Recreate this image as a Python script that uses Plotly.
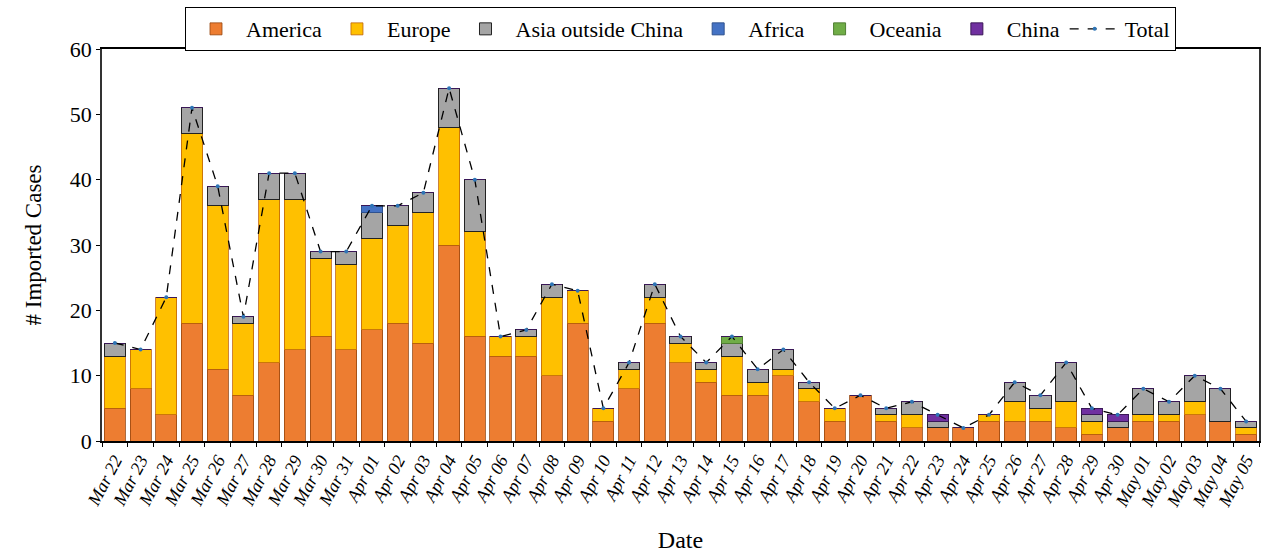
import plotly.graph_objects as go

dates = ["Mar 22", "Mar 23", "Mar 24", "Mar 25", "Mar 26", "Mar 27", "Mar 28", "Mar 29", "Mar 30", "Mar 31",
         "Apr 01", "Apr 02", "Apr 03", "Apr 04", "Apr 05", "Apr 06", "Apr 07", "Apr 08", "Apr 09", "Apr 10",
         "Apr 11", "Apr 12", "Apr 13", "Apr 14", "Apr 15", "Apr 16", "Apr 17", "Apr 18", "Apr 19", "Apr 20",
         "Apr 21", "Apr 22", "Apr 23", "Apr 24", "Apr 25", "Apr 26", "Apr 27", "Apr 28", "Apr 29", "Apr 30",
         "May 01", "May 02", "May 03", "May 04", "May 05"]

america = [5, 8, 4, 18, 11, 7, 12, 14, 16, 14,
           17, 18, 15, 30, 16, 13, 13, 10, 18, 3,
           8, 18, 12, 9, 7, 7, 10, 6, 3, 7,
           3, 2, 2, 2, 3, 3, 3, 2, 1, 2,
           3, 3, 4, 3, 1]
europe = [8, 6, 18, 29, 25, 11, 25, 23, 12, 13,
          14, 15, 20, 18, 16, 3, 3, 12, 5, 2,
          3, 4, 3, 2, 6, 2, 1, 2, 2, 0,
          1, 2, 0, 0, 1, 3, 2, 4, 2, 0,
          1, 1, 2, 0, 1]
asia = [2, 0, 0, 4, 3, 1, 4, 4, 1, 2,
        4, 3, 3, 6, 8, 0, 1, 2, 0, 0,
        1, 2, 1, 1, 2, 2, 3, 1, 0, 0,
        1, 2, 1, 0, 0, 3, 2, 6, 1, 1,
        4, 2, 4, 5, 1]
africa = [0] * 10 + [1] + [0] * 34
oceania = [0] * 24 + [1] + [0] * 20
china = [0] * 32 + [1] + [0] * 5 + [1, 1] + [0] * 5

totals = [a + e + s + f + o + c for a, e, s, f, o, c in
          zip(america, europe, asia, africa, oceania, china)]

serif = "Liberation Serif, Times New Roman, serif"

series = [
    ("America", america, "#ED7D31", "rgba(150,70,15,0.8)"),
    ("Europe", europe, "#FFC000", "rgba(190,100,10,0.8)"),
    ("Asia outside China", asia, "#A5A5A5", "#222222"),
    ("Africa", africa, "#4472C4", "#2F528F"),
    ("Oceania", oceania, "#70AD47", "#507E32"),
    ("China", china, "#7030A0", "#3A1757"),
]

fig = go.Figure()
for name, vals, fill, edge in series:
    fig.add_trace(go.Bar(
        x=dates, y=vals, name=name,
        marker=dict(color=fill, line=dict(color=edge, width=1)),
    ))

fig.add_trace(go.Scatter(
    x=dates, y=totals, name="Total", mode="lines+markers",
    line=dict(color="black", width=1.3, dash="dash"),
    marker=dict(color="#2E75B6", size=4),
))

fig.update_layout(
    width=1262, height=554,
    margin=dict(l=102, r=1, t=49, b=113),
    barmode="stack", bargap=0.18,
    plot_bgcolor="white", paper_bgcolor="white",
    font=dict(family=serif, color="black", size=22),
    legend=dict(
        orientation="h", x=0.5, xanchor="center", y=1.107, yanchor="top",
        bordercolor="black", borderwidth=1, font=dict(size=22, family=serif),
        itemwidth=50, tracegroupgap=0, traceorder="normal",
    ),
    showlegend=True,
)

fig.update_xaxes(
    type="category", tickangle=-62, range=[-0.5, len(dates) - 0.5],
    tickfont=dict(family=serif, size=18, style="italic"),
    showline=True, linecolor="black", linewidth=1.5, mirror=True,
    ticks="outside", ticklen=4, tickcolor="black", tickson="boundaries",
    title=dict(text="Date", font=dict(size=24, family=serif), standoff=22),
)
fig.update_yaxes(
    range=[0, 60], dtick=10,
    tickfont=dict(family=serif, size=22),
    showline=True, linecolor="#333333", linewidth=1.5, mirror=True,
    showgrid=False, zeroline=False,
    ticks="outside", ticklen=4, tickcolor="black",
    title=dict(text="# Imported Cases", font=dict(size=23, family=serif), standoff=22),
)

fig.write_html("out.html")
